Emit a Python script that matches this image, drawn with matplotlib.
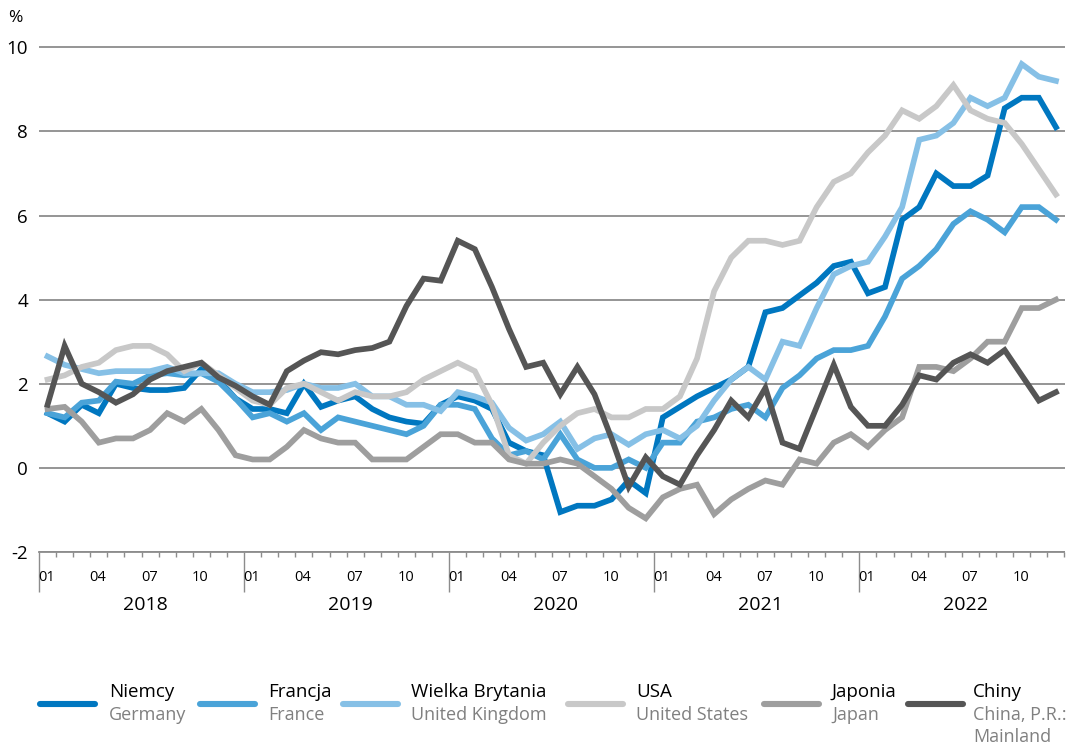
import numpy as np
import matplotlib
matplotlib.use("Agg")
import matplotlib.pyplot as plt
from matplotlib.lines import Line2D

# ─────────────────────────────────────────────
# DATA  (CPI, % y/y, monthly 2018-01 .. 2022-12)
# ─────────────────────────────────────────────
years = ["2018", "2019", "2020", "2021", "2022"]
month_labels = ["01", "04", "07", "10"]

germany = [
    1.3, 1.1, 1.5, 1.3, 2.0, 1.9, 1.85, 1.85, 1.9, 2.35, 2.1, 1.65,
    1.4, 1.4, 1.3, 2.0, 1.45, 1.6, 1.7, 1.4, 1.2, 1.1, 1.05, 1.5,
    1.7, 1.6, 1.4, 0.6, 0.4, 0.3, -1.05, -0.9, -0.9, -0.75, -0.3, -0.6,
    1.2, 1.45, 1.7, 1.9, 2.1, 2.4, 3.7, 3.8, 4.1, 4.4, 4.8, 4.9,
    4.15, 4.3, 5.9, 6.2, 7.0, 6.7, 6.7, 6.95, 8.55, 8.8, 8.8, 8.1,
]
france = [
    1.3, 1.2, 1.55, 1.6, 2.05, 2.0, 2.2, 2.25, 2.2, 2.25, 2.05, 1.65,
    1.2, 1.3, 1.1, 1.3, 0.9, 1.2, 1.1, 1.0, 0.9, 0.8, 1.0, 1.5,
    1.5, 1.4, 0.7, 0.3, 0.4, 0.2, 0.8, 0.2, 0.0, 0.0, 0.2, 0.0,
    0.6, 0.6, 1.1, 1.2, 1.4, 1.5, 1.2, 1.9, 2.2, 2.6, 2.8, 2.8,
    2.9, 3.6, 4.5, 4.8, 5.2, 5.8, 6.1, 5.9, 5.6, 6.2, 6.2, 5.9,
]
uk = [
    2.65, 2.45, 2.35, 2.25, 2.3, 2.3, 2.3, 2.4, 2.25, 2.25, 2.25, 2.0,
    1.8, 1.8, 1.85, 2.0, 1.9, 1.9, 2.0, 1.7, 1.7, 1.5, 1.5, 1.35,
    1.8, 1.7, 1.55, 0.95, 0.65, 0.8, 1.1, 0.45, 0.7, 0.8, 0.55, 0.8,
    0.9, 0.7, 1.0, 1.6, 2.1, 2.4, 2.1, 3.0, 2.9, 3.8, 4.6, 4.8,
    4.9, 5.5, 6.2, 7.8, 7.9, 8.2, 8.8, 8.6, 8.8, 9.6, 9.3, 9.2,
]
usa = [
    2.1, 2.2, 2.4, 2.5, 2.8, 2.9, 2.9, 2.7, 2.3, 2.5, 2.2, 1.9,
    1.6, 1.5, 1.9, 2.0, 1.8, 1.6, 1.8, 1.7, 1.7, 1.8, 2.1, 2.3,
    2.5, 2.3, 1.5, 0.3, 0.1, 0.6, 1.0, 1.3, 1.4, 1.2, 1.2, 1.4,
    1.4, 1.7, 2.6, 4.2, 5.0, 5.4, 5.4, 5.3, 5.4, 6.2, 6.8, 7.0,
    7.5, 7.9, 8.5, 8.3, 8.6, 9.1, 8.5, 8.3, 8.2, 7.7, 7.1, 6.5,
]
japan = [
    1.4, 1.45, 1.1, 0.6, 0.7, 0.7, 0.9, 1.3, 1.1, 1.4, 0.9, 0.3,
    0.2, 0.2, 0.5, 0.9, 0.7, 0.6, 0.6, 0.2, 0.2, 0.2, 0.5, 0.8,
    0.8, 0.6, 0.6, 0.2, 0.1, 0.1, 0.2, 0.1, -0.2, -0.5, -0.95, -1.2,
    -0.7, -0.5, -0.4, -1.1, -0.75, -0.5, -0.3, -0.4, 0.2, 0.1, 0.6, 0.8,
    0.5, 0.9, 1.2, 2.4, 2.4, 2.3, 2.6, 3.0, 3.0, 3.8, 3.8, 4.0,
]
china = [
    1.5, 2.9, 2.0, 1.8, 1.55, 1.75, 2.1, 2.3, 2.4, 2.5, 2.15, 1.95,
    1.7, 1.5, 2.3, 2.55, 2.75, 2.7, 2.8, 2.85, 3.0, 3.85, 4.5, 4.45,
    5.4, 5.2, 4.3, 3.3, 2.4, 2.5, 1.75, 2.4, 1.75, 0.7, -0.45, 0.25,
    -0.2, -0.4, 0.3, 0.9, 1.6, 1.2, 1.9, 0.6, 0.45, 1.45, 2.45, 1.45,
    1.0, 1.0, 1.5, 2.2, 2.1, 2.5, 2.7, 2.5, 2.8, 2.2, 1.6, 1.8,
]

series_pl = ["Niemcy", "Francja", "Wielka Brytania", "USA", "Japonia", "Chiny"]
series_en = ["Germany", "France", "United Kingdom", "United States", "Japan",
             "China, P.R.:\nMainland"]
series_values = [germany, france, uk, usa, japan, china]
colors = ["#0077c0", "#4aa3d8", "#86c0e6", "#c8c8c8", "#9e9e9e", "#555555"]

# ─────────────────────────────────────────────
# STYLE
# ─────────────────────────────────────────────
plt.rcParams["font.family"] = ["Open Sans", "DejaVu Sans"]
plt.rcParams["axes.unicode_minus"] = False
GRID_COLOR = "#8c8c8c"
W, H = 1071, 750

fig = plt.figure(figsize=(W / 100, H / 100), dpi=100)
ax = fig.add_axes([39 / W, 1 - 552 / H, (1064.5 - 39) / W, (552 - 46) / H])

x = np.arange(len(germany))
for vals, col in zip(series_values, colors):
    ax.plot(x, vals, color=col, lw=4.1, solid_joinstyle="miter", zorder=3)

ax.set_xlim(-0.5, len(x) - 0.5)
ax.set_ylim(-2, 10.03)

# horizontal grid
ax.set_yticks(np.arange(-2, 11, 2))
ax.set_yticklabels([str(v) for v in range(-2, 11, 2)], fontsize=13.5)
ax.grid(axis="y", color=GRID_COLOR, lw=1.3, zorder=1)
ax.tick_params(axis="y", length=0, pad=8, colors="#000000")

for s in ["top", "right", "left"]:
    ax.spines[s].set_visible(False)
ax.spines["bottom"].set_color(GRID_COLOR)
ax.spines["bottom"].set_linewidth(1.3)

# x axis: long ticks at year starts, short ticks at each month boundary
year_starts = np.arange(len(years)) * 12 - 0.5
month_bounds = np.arange(len(x) + 1) - 0.5
ax.set_xticks(year_starts)
ax.set_xticks(month_bounds, minor=True)
ax.tick_params(axis="x", which="major", length=29, width=1.0, color=GRID_COLOR,
               labelbottom=False)
ax.tick_params(axis="x", which="minor", length=3.5, width=1.0, color=GRID_COLOR)

tr = ax.get_xaxis_transform()
for yi, yr in enumerate(years):
    for mi, ml in enumerate(month_labels):
        ax.text(yi * 12 + mi * 3 - 0.05, -0.05, ml, transform=tr, ha="center",
                va="center", fontsize=10.5, color="#000000")
    ax.text(yi * 12 + 5.7, -0.105, yr, transform=tr, ha="center",
            va="center", fontsize=14, color="#000000")

fig.text(15 / W, 1 - 18 / H, "%", ha="center", va="center", fontsize=12.5)

# ─────────────────────────────────────────────
# LEGEND (manual, two-line labels)
# ─────────────────────────────────────────────
leg_line_x = [40, 200, 343, 568, 764, 908]
leg_text_x = [109, 268, 411, 636, 832, 973]
for lx, tx, pl, en, col in zip(leg_line_x, leg_text_x, series_pl, series_en, colors):
    fig.add_artist(Line2D([lx / W, (lx + 55) / W], [1 - 704 / H, 1 - 704 / H],
                          color=col, lw=4.4, solid_capstyle="round"))
    fig.text(tx / W, 1 - 692 / H, pl, ha="left", va="center", fontsize=13.5,
             color="#000000")
    fig.text(tx / W, 1 - 706 / H, en, ha="left", va="top", fontsize=13,
             color="#808080", linespacing=1.25)

fig.savefig("out.png", dpi=100)
